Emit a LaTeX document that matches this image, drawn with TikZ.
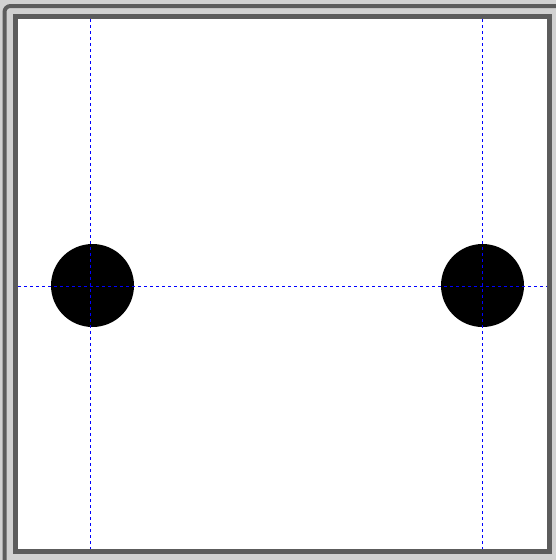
\documentclass[tikz,border=0pt]{standalone}
\begin{document}
\begin{tikzpicture}[x=1pt,y=-1pt,
  darkframe/.style={draw=black!64,line width=5},
  guide/.style={draw=blue,line width=0.8,dash pattern=on 3 off 3},
  ball/.style={circle,fill=black,draw=none,minimum size=83,inner sep=0}]
\useasboundingbox (0,0) rectangle (556,560);
\clip (0,0) rectangle (556,560);
\fill[black!18] (0,0) rectangle (556,560);
\draw[draw=black!64,line width=4,rounded corners=6] (4.5,6) rectangle (575,580);
\fill[white] (15.5,16) rectangle (549.5,551.5);
\draw[darkframe] (15.5,16) rectangle (549.5,551.5);
\node[ball] (left) at (92.5,285.5) {};
\node[ball] (right) at (482.5,285.5) {};
\coordinate (vlt) at (90,19);
\coordinate (vlb) at (90,549);
\coordinate (vrt) at (482,19);
\coordinate (vrb) at (482,549);
\coordinate (hl) at (18,286);
\coordinate (hr) at (547,286);
\draw[guide] (vlt) -- (vlb);
\draw[guide] (vrt) -- (vrb);
\draw[guide] (hl) -- (hr);
\end{tikzpicture}
\end{document}
